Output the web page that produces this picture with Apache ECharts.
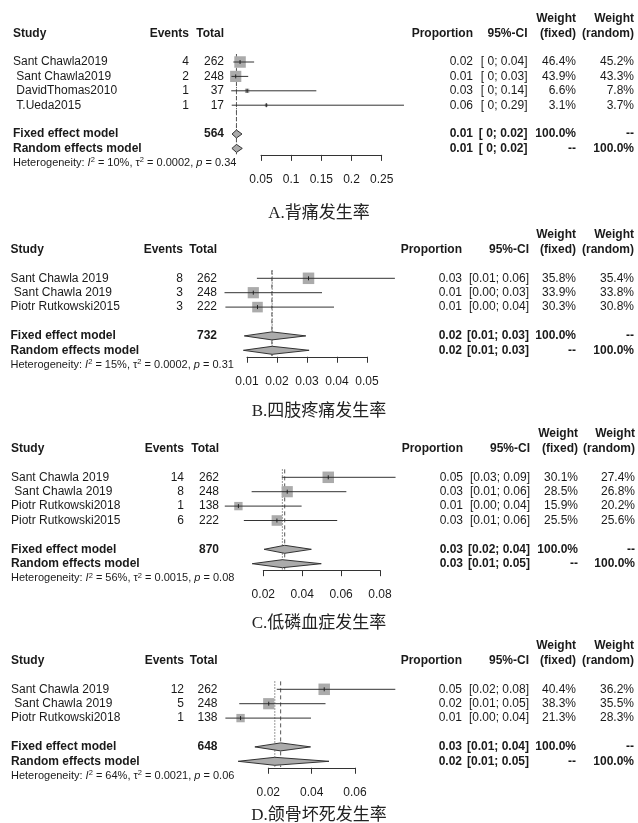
<!doctype html>
<html lang="zh">
<head>
<meta charset="UTF-8">
<title>森林图</title>
<script src="https://cdn.jsdelivr.net/npm/echarts@6/dist/echarts.min.js"></script>
<style>html,body{margin:0;padding:0;background:#fff;}</style>
</head>
<body>
<div id="main" style="width:638px;height:823px;"></div>
<script>
// ---- 数据 ----
var captions = ['A.背痛发生率', 'B.四肢疼痛发生率', 'C.低磷血症发生率', 'D.颌骨坏死发生率'];
var studies = [
    ['Sant Chawla2019', ' Sant Chawla2019', ' DavidThomas2010', ' T.Ueda2015'],
    ['Sant Chawla 2019', ' Sant Chawla 2019', 'Piotr Rutkowski2015'],
    ['Sant Chawla 2019', ' Sant Chawla 2019', 'Piotr Rutkowski2018', 'Piotr Rutkowski2015'],
    ['Sant Chawla 2019', ' Sant Chawla 2019', 'Piotr Rutkowski2018']
];
var events = [[4, 2, 1, 1], [8, 3, 3], [14, 8, 1, 6], [12, 5, 1]];
var totals = [[262, 248, 37, 17], [262, 248, 222], [262, 248, 138, 222], [262, 248, 138]];
var props = [[0.0153, 0.0081, 0.0270, 0.0588], [0.0305, 0.0121, 0.0135], [0.0534, 0.0323, 0.0072, 0.0270], [0.0458, 0.0202, 0.0072]];
var ciLow = [[0.0042, 0.0010, 0.0007, 0.0015], [0.0133, 0.0025, 0.0028], [0.0295, 0.0140, 0.0002, 0.0100], [0.0239, 0.0066, 0.0002]];
var ciHigh = [[0.0386, 0.0288, 0.1417, 0.2869], [0.0593, 0.0350, 0.0390], [0.0880, 0.0627, 0.0397, 0.0580], [0.0786, 0.0464, 0.0397]];
var propLabels = [['0.02', '0.01', '0.03', '0.06'], ['0.03', '0.01', '0.01'], ['0.05', '0.03', '0.01', '0.03'], ['0.05', '0.02', '0.01']];
var ciLabels = [
    ['[ 0; 0.04]', '[ 0; 0.03]', '[ 0; 0.14]', '[ 0; 0.29]'],
    ['[0.01; 0.06]', '[0.00; 0.03]', '[0.00; 0.04]'],
    ['[0.03; 0.09]', '[0.01; 0.06]', '[0.00; 0.04]', '[0.01; 0.06]'],
    ['[0.02; 0.08]', '[0.01; 0.05]', '[0.00; 0.04]']
];
var wFixed = [[46.4, 43.9, 6.6, 3.1], [35.8, 33.9, 30.3], [30.1, 28.5, 15.9, 25.5], [40.4, 38.3, 21.3]];
var wRandom = [[45.2, 43.3, 7.8, 3.7], [35.4, 33.8, 30.8], [27.4, 26.8, 20.2, 25.6], [36.2, 35.5, 28.3]];

var pooledTotal = [564, 732, 870, 648];
var fixedEst = [0.0093, 0.0183, 0.0310, 0.0257];
var fixedLow = [0.0020, 0.0091, 0.0204, 0.0138];
var fixedHigh = [0.0185, 0.0296, 0.0447, 0.0395];
var randomEst = [0.0094, 0.0184, 0.0298, 0.0230];
var randomLow = [0.0018, 0.0088, 0.0143, 0.0061];
var randomHigh = [0.0190, 0.0307, 0.0498, 0.0480];
var fixedPropLabels = ['0.01', '0.02', '0.03', '0.03'];
var fixedCiLabels = ['[ 0; 0.02]', '[0.01; 0.03]', '[0.02; 0.04]', '[0.01; 0.04]'];
var randomPropLabels = ['0.01', '0.02', '0.03', '0.02'];
var randomCiLabels = ['[ 0; 0.02]', '[0.01; 0.03]', '[0.01; 0.05]', '[0.01; 0.05]'];
var hetI2 = ['10%', '15%', '56%', '64%'];
var hetTau2 = ['0.0002', '0.0002', '0.0015', '0.0021'];
var hetP = ['0.34', '0.31', '0.08', '0.06'];

// 坐标轴刻度
var tickMin = [0.05, 0.01, 0.02, 0.02];
var tickMax = [0.25, 0.05, 0.08, 0.06];
var tickStep = [0.05, 0.01, 0.02, 0.02];

// ---- 版式 ----
var rowH = 14.4;
var rowTop = [62, 278.3, 477.3, 689.3];
var axisPx = [[261, 381.7], [247, 367], [263.3, 380], [268.3, 355]];
var captionTop = [205, 403, 615, 807];
var cols = [
    {study: 13, events: 189, total: 224, prop: 473, ci: 527.5, wf: 576, wr: 634},
    {study: 10.5, events: 183, total: 217, prop: 462, ci: 529, wf: 576, wr: 634},
    {study: 11, events: 184, total: 219, prop: 463, ci: 530, wf: 578, wr: 635},
    {study: 11, events: 184, total: 217.5, prop: 462, ci: 529, wf: 576, wr: 634}
];
var textColor = '#1a1a1a';
var sansFont = '"Liberation Sans", Arial, sans-serif';

function cell(x, align, text, bold) {
    return {x: x, align: align, text: String(text), bold: !!bold};
}

// 每个面板的表格文字行
function buildRows(p) {
    var c = cols[p];
    var n = studies[p].length;
    var rows = [];
    rows.push({row: -3, cells: [cell(c.wf, 'right', 'Weight', true), cell(c.wr, 'right', 'Weight', true)]});
    rows.push({row: -2, cells: [
        cell(c.study, 'left', 'Study', true), cell(c.events, 'right', 'Events', true),
        cell(c.total, 'right', 'Total', true), cell(c.prop, 'right', 'Proportion', true),
        cell(c.ci, 'right', '95%-CI', true), cell(c.wf, 'right', '(fixed)', true),
        cell(c.wr, 'right', '(random)', true)
    ]});
    for (var i = 0; i < n; i++) {
        rows.push({row: i, cells: [
            cell(c.study, 'left', studies[p][i]), cell(c.events, 'right', events[p][i]),
            cell(c.total, 'right', totals[p][i]), cell(c.prop, 'right', propLabels[p][i]),
            cell(c.ci, 'right', ciLabels[p][i]), cell(c.wf, 'right', wFixed[p][i].toFixed(1) + '%'),
            cell(c.wr, 'right', wRandom[p][i].toFixed(1) + '%')
        ]});
    }
    rows.push({row: n + 1, cells: [
        cell(c.study, 'left', 'Fixed effect model', true), cell(c.total, 'right', pooledTotal[p], true),
        cell(c.prop, 'right', fixedPropLabels[p], true), cell(c.ci, 'right', fixedCiLabels[p], true),
        cell(c.wf, 'right', '100.0%', true), cell(c.wr, 'right', '--', true)
    ]});
    rows.push({row: n + 2, cells: [
        cell(c.study, 'left', 'Random effects model', true),
        cell(c.prop, 'right', randomPropLabels[p], true), cell(c.ci, 'right', randomCiLabels[p], true),
        cell(c.wf, 'right', '--', true), cell(c.wr, 'right', '100.0%', true)
    ]});
    var het = cell(c.study, 'left',
        '{n|Heterogeneity: }{i|I}{s|2}{n| = ' + hetI2[p] + ', τ}{s|2}{n| = ' + hetTau2[p] + ', }{i|p}{n| = ' + hetP[p] + '}');
    het.rich = true;
    rows.push({row: n + 3, cells: [het]});
    return rows;
}

var richHet = {
    n: {fontSize: 11, fontFamily: sansFont, lineHeight: 13, fill: textColor, color: textColor},
    i: {fontSize: 11, fontFamily: sansFont, fontStyle: 'italic', lineHeight: 13, fill: textColor, color: textColor},
    s: {fontSize: 7.5, fontFamily: sansFont, lineHeight: 8, verticalAlign: 'top', fill: textColor, color: textColor}
};

var grids = [], xAxes = [], yAxes = [], series = [], titles = [];

for (var p = 0; p < 4; p++) {
    var n = studies[p].length;
    var yMax = n + 2.45;
    grids.push({
        left: axisPx[p][0],
        width: axisPx[p][1] - axisPx[p][0],
        top: rowTop[p] - 3 * rowH,
        height: (yMax + 3) * rowH,
        containLabel: false,
        outerBoundsMode: 'none'
    });
    xAxes.push({
        gridIndex: p, type: 'value',
        min: tickMin[p], max: tickMax[p], interval: tickStep[p],
        axisLine: {show: true, onZero: false, lineStyle: {color: '#333', width: 1}},
        axisTick: {show: true, length: 6, lineStyle: {color: '#333'}},
        axisLabel: {margin: 19, fontSize: 12, color: textColor, fontFamily: sansFont, hideOverlap: false},
        splitLine: {show: false}
    });
    yAxes.push({gridIndex: p, type: 'value', inverse: true, min: -3, max: yMax, show: false});

    titles.push({
        text: captions[p], left: 'center', top: captionTop[p], padding: 0,
        textStyle: {fontFamily: '"Liberation Serif", "Noto Sans CJK SC", serif', fontSize: 17, fontWeight: 'normal', color: '#222'}
    });

    (function (p, n) {
        // 参考线：固定效应虚线，随机效应点线
        series.push({
            type: 'custom', xAxisIndex: p, yAxisIndex: p, clip: false, z: 1, silent: true,
            data: [[randomEst[p], n + 2.4], [fixedEst[p], n + 2.4]],
            renderItem: function (params, api) {
                var a = api.coord([api.value(0), -0.55]);
                var b = api.coord([api.value(0), api.value(1)]);
                return {
                    type: 'line',
                    shape: {x1: a[0], y1: a[1], x2: b[0], y2: b[1]},
                    style: {stroke: '#555', lineWidth: 1, lineDash: params.dataIndex === 0 ? [1.2, 1.8] : [4, 3]}
                };
            }
        });

        // 各研究：方块 + 置信区间
        var wMax = Math.max.apply(null, wFixed[p]);
        var sData = [];
        for (var i = 0; i < n; i++) {
            sData.push([props[p][i], i, ciLow[p][i], ciHigh[p][i], wFixed[p][i]]);
        }
        series.push({
            type: 'custom', xAxisIndex: p, yAxisIndex: p, clip: false, z: 3, silent: true,
            data: sData,
            renderItem: function (params, api) {
                var c = api.coord([api.value(0), api.value(1)]);
                var lo = api.coord([api.value(2), api.value(1)]);
                var hi = api.coord([api.value(3), api.value(1)]);
                var s = Math.sqrt(api.value(4) / wMax) * 11.5;
                return {
                    type: 'group',
                    children: [
                        {type: 'rect', shape: {x: c[0] - s / 2, y: c[1] - s / 2, width: s, height: s}, style: {fill: '#ababab'}},
                        {type: 'line', shape: {x1: lo[0], y1: c[1], x2: hi[0], y2: c[1]}, style: {stroke: '#333', lineWidth: 1}},
                        {type: 'line', shape: {x1: c[0], y1: c[1] - 2, x2: c[0], y2: c[1] + 2}, style: {stroke: '#222', lineWidth: 1}}
                    ]
                };
            }
        });

        // 合并效应菱形
        series.push({
            type: 'custom', xAxisIndex: p, yAxisIndex: p, clip: false, z: 3, silent: true,
            data: [
                [fixedEst[p], n + 1, fixedLow[p], fixedHigh[p]],
                [randomEst[p], n + 2, randomLow[p], randomHigh[p]]
            ],
            renderItem: function (params, api) {
                var c = api.coord([api.value(0), api.value(1)]);
                var lo = api.coord([api.value(2), api.value(1)]);
                var hi = api.coord([api.value(3), api.value(1)]);
                return {
                    type: 'polygon',
                    shape: {points: [[lo[0], c[1]], [c[0], c[1] - 4], [hi[0], c[1]], [c[0], c[1] + 4]]},
                    style: {fill: '#ababab', stroke: '#333', lineWidth: 1}
                };
            }
        });

        // 表格文字
        var rows = buildRows(p);
        series.push({
            type: 'custom', xAxisIndex: p, yAxisIndex: p, clip: false, z: 5, silent: true,
            data: rows.map(function (r) { return [tickMin[p], r.row]; }),
            renderItem: function (params, api) {
                var r = rows[params.dataIndex];
                var y = api.coord([tickMin[p], r.row])[1];
                return {
                    type: 'group',
                    children: r.cells.map(function (c) {
                        var st = {
                            text: c.text, fill: textColor,
                            fontSize: 12, fontWeight: c.bold ? 'bold' : 'normal', fontFamily: sansFont,
                            align: c.align, textAlign: c.align,
                            verticalAlign: 'middle', textVerticalAlign: 'middle'
                        };
                        if (c.rich) {
                            st.fontSize = 11;
                            st.rich = richHet;
                        }
                        return {type: 'text', x: c.x, y: y, style: st};
                    })
                };
            }
        });
    })(p, n);
}

var chart = echarts.init(document.getElementById('main'));
chart.setOption({
    animation: false,
    backgroundColor: '#fff',
    title: titles,
    grid: grids,
    xAxis: xAxes,
    yAxis: yAxes,
    series: series
});
</script>
</body>
</html>
